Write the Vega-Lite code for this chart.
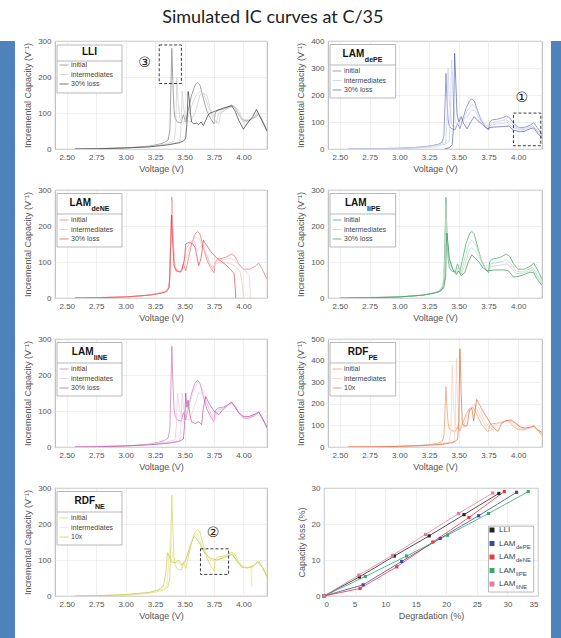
{
"$schema": "https://vega.github.io/schema/vega-lite/v6.json",
"background": "white",
"padding": {"top": 8, "left": 0, "right": 0, "bottom": 0},
"config": {
 "view": {"stroke": "#a0a0a0", "strokeWidth": 0.8},
 "axis": {"labelFont": "Liberation Sans", "titleFont": "Liberation Sans", "labelFontSize": 8, "titleFontSize": 9, "labelColor": "#555", "titleColor": "#555", "titleFontWeight": "normal", "domain": false, "ticks": false, "gridColor": "#e4e4e4", "gridWidth": 0.6, "labelPadding": 4, "labelOverlap": false},
 "axisX": {"titlePadding": 3},
 "axisY": {"titlePadding": 5},
 "legend": {"symbolType": "stroke", "symbolSize": 80, "labelFontSize": 7, "labelFont": "Liberation Sans", "labelColor": "#444", "rowPadding": 1.5, "padding": 0, "labelOffset": 2, "labelLimit": 120}
},
"datasets": {
 "ini": [
  {"s":"initial","c":0,"v":2.57,"ic":0},{"s":"initial","c":0,"v":2.8,"ic":1},{"s":"initial","c":0,"v":3.0,"ic":3},{"s":"initial","c":0,"v":3.1,"ic":5},{"s":"initial","c":0,"v":3.2,"ic":8},{"s":"initial","c":0,"v":3.28,"ic":13},{"s":"initial","c":0,"v":3.33,"ic":18},{"s":"initial","c":0,"v":3.36,"ic":25},{"s":"initial","c":0,"v":3.375,"ic":50},{"s":"initial","c":0,"v":3.385,"ic":180},{"s":"initial","c":0,"v":3.392,"ic":280},{"s":"initial","c":0,"v":3.4,"ic":190},{"s":"initial","c":0,"v":3.41,"ic":110},{"s":"initial","c":0,"v":3.42,"ic":85},{"s":"initial","c":0,"v":3.44,"ic":75},{"s":"initial","c":0,"v":3.47,"ic":72},{"s":"initial","c":0,"v":3.49,"ic":95},{"s":"initial","c":0,"v":3.51,"ic":75},{"s":"initial","c":0,"v":3.53,"ic":105},{"s":"initial","c":0,"v":3.56,"ic":150},{"s":"initial","c":0,"v":3.59,"ic":178},{"s":"initial","c":0,"v":3.61,"ic":185},{"s":"initial","c":0,"v":3.63,"ic":178},{"s":"initial","c":0,"v":3.66,"ic":140},{"s":"initial","c":0,"v":3.69,"ic":105},{"s":"initial","c":0,"v":3.72,"ic":85},{"s":"initial","c":0,"v":3.75,"ic":70},{"s":"initial","c":0,"v":3.76,"ic":100},{"s":"initial","c":0,"v":3.78,"ic":108},{"s":"initial","c":0,"v":3.82,"ic":110},{"s":"initial","c":0,"v":3.86,"ic":115},{"s":"initial","c":0,"v":3.9,"ic":122},{"s":"initial","c":0,"v":3.93,"ic":115},{"s":"initial","c":0,"v":3.96,"ic":95},{"s":"initial","c":0,"v":4.0,"ic":80},{"s":"initial","c":0,"v":4.05,"ic":80},{"s":"initial","c":0,"v":4.1,"ic":88},{"s":"initial","c":0,"v":4.13,"ic":97},{"s":"initial","c":0,"v":4.16,"ic":80},{"s":"initial","c":0,"v":4.2,"ic":52}
 ],
 "lli": [
  {"s":"intermediates","c":1,"v":2.57,"ic":0},{"s":"intermediates","c":1,"v":3.0,"ic":3},{"s":"intermediates","c":1,"v":3.2,"ic":7},{"s":"intermediates","c":1,"v":3.35,"ic":14},{"s":"intermediates","c":1,"v":3.41,"ic":22},{"s":"intermediates","c":1,"v":3.425,"ic":60},{"s":"intermediates","c":1,"v":3.435,"ic":200},{"s":"intermediates","c":1,"v":3.445,"ic":130},{"s":"intermediates","c":1,"v":3.46,"ic":85},{"s":"intermediates","c":1,"v":3.49,"ic":75},{"s":"intermediates","c":1,"v":3.52,"ic":80},{"s":"intermediates","c":1,"v":3.56,"ic":120},{"s":"intermediates","c":1,"v":3.6,"ic":150},{"s":"intermediates","c":1,"v":3.63,"ic":160},{"s":"intermediates","c":1,"v":3.66,"ic":155},{"s":"intermediates","c":1,"v":3.7,"ic":120},{"s":"intermediates","c":1,"v":3.74,"ic":85},{"s":"intermediates","c":1,"v":3.77,"ic":72},{"s":"intermediates","c":1,"v":3.79,"ic":100},{"s":"intermediates","c":1,"v":3.84,"ic":108},{"s":"intermediates","c":1,"v":3.88,"ic":115},{"s":"intermediates","c":1,"v":3.92,"ic":120},{"s":"intermediates","c":1,"v":3.96,"ic":105},{"s":"intermediates","c":1,"v":4.0,"ic":75},{"s":"intermediates","c":1,"v":4.05,"ic":78},{"s":"intermediates","c":1,"v":4.09,"ic":88},{"s":"intermediates","c":1,"v":4.12,"ic":100},{"s":"intermediates","c":1,"v":4.16,"ic":78},{"s":"intermediates","c":1,"v":4.2,"ic":52},
  {"s":"intermediates","c":2,"v":2.57,"ic":0},{"s":"intermediates","c":2,"v":3.0,"ic":3},{"s":"intermediates","c":2,"v":3.2,"ic":6},{"s":"intermediates","c":2,"v":3.4,"ic":15},{"s":"intermediates","c":2,"v":3.46,"ic":20},{"s":"intermediates","c":2,"v":3.47,"ic":60},{"s":"intermediates","c":2,"v":3.48,"ic":160},{"s":"intermediates","c":2,"v":3.49,"ic":120},{"s":"intermediates","c":2,"v":3.51,"ic":80},{"s":"intermediates","c":2,"v":3.55,"ic":75},{"s":"intermediates","c":2,"v":3.59,"ic":100},{"s":"intermediates","c":2,"v":3.63,"ic":150},{"s":"intermediates","c":2,"v":3.66,"ic":155},{"s":"intermediates","c":2,"v":3.69,"ic":150},{"s":"intermediates","c":2,"v":3.72,"ic":110},{"s":"intermediates","c":2,"v":3.76,"ic":80},{"s":"intermediates","c":2,"v":3.79,"ic":70},{"s":"intermediates","c":2,"v":3.81,"ic":100},{"s":"intermediates","c":2,"v":3.86,"ic":112},{"s":"intermediates","c":2,"v":3.9,"ic":118},{"s":"intermediates","c":2,"v":3.93,"ic":115},{"s":"intermediates","c":2,"v":3.97,"ic":90},{"s":"intermediates","c":2,"v":4.02,"ic":65},{"s":"intermediates","c":2,"v":4.06,"ic":78},{"s":"intermediates","c":2,"v":4.1,"ic":92},{"s":"intermediates","c":2,"v":4.12,"ic":105},{"s":"intermediates","c":2,"v":4.16,"ic":80},{"s":"intermediates","c":2,"v":4.2,"ic":50},
  {"s":"30% loss","c":3,"v":2.57,"ic":0},{"s":"30% loss","c":3,"v":2.8,"ic":1},{"s":"30% loss","c":3,"v":3.0,"ic":3},{"s":"30% loss","c":3,"v":3.2,"ic":6},{"s":"30% loss","c":3,"v":3.35,"ic":11},{"s":"30% loss","c":3,"v":3.45,"ic":17},{"s":"30% loss","c":3,"v":3.49,"ic":22},{"s":"30% loss","c":3,"v":3.51,"ic":30},{"s":"30% loss","c":3,"v":3.52,"ic":70},{"s":"30% loss","c":3,"v":3.53,"ic":160},{"s":"30% loss","c":3,"v":3.54,"ic":140},{"s":"30% loss","c":3,"v":3.55,"ic":100},{"s":"30% loss","c":3,"v":3.56,"ic":75},{"s":"30% loss","c":3,"v":3.58,"ic":70},{"s":"30% loss","c":3,"v":3.6,"ic":72},{"s":"30% loss","c":3,"v":3.62,"ic":68},{"s":"30% loss","c":3,"v":3.64,"ic":75},{"s":"30% loss","c":3,"v":3.66,"ic":65},{"s":"30% loss","c":3,"v":3.68,"ic":80},{"s":"30% loss","c":3,"v":3.7,"ic":95},{"s":"30% loss","c":3,"v":3.72,"ic":100},{"s":"30% loss","c":3,"v":3.76,"ic":105},{"s":"30% loss","c":3,"v":3.8,"ic":110},{"s":"30% loss","c":3,"v":3.84,"ic":115},{"s":"30% loss","c":3,"v":3.88,"ic":118},{"s":"30% loss","c":3,"v":3.9,"ic":120},{"s":"30% loss","c":3,"v":3.93,"ic":105},{"s":"30% loss","c":3,"v":3.96,"ic":80},{"s":"30% loss","c":3,"v":4.0,"ic":55},{"s":"30% loss","c":3,"v":4.04,"ic":75},{"s":"30% loss","c":3,"v":4.08,"ic":90},{"s":"30% loss","c":3,"v":4.11,"ic":110},{"s":"30% loss","c":3,"v":4.14,"ic":90},{"s":"30% loss","c":3,"v":4.17,"ic":70},{"s":"30% loss","c":3,"v":4.2,"ic":50}
 ],
 "depe": [
  {"s":"intermediates","c":1,"v":2.57,"ic":0},{"s":"intermediates","c":1,"v":3.0,"ic":3},{"s":"intermediates","c":1,"v":3.2,"ic":7},{"s":"intermediates","c":1,"v":3.33,"ic":15},{"s":"intermediates","c":1,"v":3.39,"ic":25},{"s":"intermediates","c":1,"v":3.4,"ic":100},{"s":"intermediates","c":1,"v":3.41,"ic":300},{"s":"intermediates","c":1,"v":3.42,"ic":180},{"s":"intermediates","c":1,"v":3.44,"ic":90},{"s":"intermediates","c":1,"v":3.47,"ic":80},{"s":"intermediates","c":1,"v":3.5,"ic":95},{"s":"intermediates","c":1,"v":3.53,"ic":100},{"s":"intermediates","c":1,"v":3.57,"ic":140},{"s":"intermediates","c":1,"v":3.61,"ic":165},{"s":"intermediates","c":1,"v":3.64,"ic":155},{"s":"intermediates","c":1,"v":3.68,"ic":115},{"s":"intermediates","c":1,"v":3.73,"ic":85},{"s":"intermediates","c":1,"v":3.76,"ic":95},{"s":"intermediates","c":1,"v":3.8,"ic":100},{"s":"intermediates","c":1,"v":3.86,"ic":105},{"s":"intermediates","c":1,"v":3.9,"ic":108},{"s":"intermediates","c":1,"v":3.94,"ic":95},{"s":"intermediates","c":1,"v":3.98,"ic":80},{"s":"intermediates","c":1,"v":4.03,"ic":75},{"s":"intermediates","c":1,"v":4.08,"ic":80},{"s":"intermediates","c":1,"v":4.12,"ic":88},{"s":"intermediates","c":1,"v":4.16,"ic":70},{"s":"intermediates","c":1,"v":4.2,"ic":48},
  {"s":"intermediates","c":2,"v":2.8,"ic":0},{"s":"intermediates","c":2,"v":3.1,"ic":2},{"s":"intermediates","c":2,"v":3.3,"ic":8},{"s":"intermediates","c":2,"v":3.4,"ic":20},{"s":"intermediates","c":2,"v":3.42,"ic":30},{"s":"intermediates","c":2,"v":3.43,"ic":150},{"s":"intermediates","c":2,"v":3.44,"ic":330},{"s":"intermediates","c":2,"v":3.45,"ic":200},{"s":"intermediates","c":2,"v":3.47,"ic":100},{"s":"intermediates","c":2,"v":3.5,"ic":90},{"s":"intermediates","c":2,"v":3.53,"ic":105},{"s":"intermediates","c":2,"v":3.57,"ic":120},{"s":"intermediates","c":2,"v":3.61,"ic":145},{"s":"intermediates","c":2,"v":3.64,"ic":140},{"s":"intermediates","c":2,"v":3.68,"ic":105},{"s":"intermediates","c":2,"v":3.73,"ic":80},{"s":"intermediates","c":2,"v":3.77,"ic":88},{"s":"intermediates","c":2,"v":3.82,"ic":92},{"s":"intermediates","c":2,"v":3.87,"ic":95},{"s":"intermediates","c":2,"v":3.91,"ic":97},{"s":"intermediates","c":2,"v":3.95,"ic":82},{"s":"intermediates","c":2,"v":4.0,"ic":72},{"s":"intermediates","c":2,"v":4.05,"ic":72},{"s":"intermediates","c":2,"v":4.1,"ic":80},{"s":"intermediates","c":2,"v":4.13,"ic":83},{"s":"intermediates","c":2,"v":4.16,"ic":65},{"s":"intermediates","c":2,"v":4.2,"ic":44},
  {"s":"30% loss","c":3,"v":3.38,"ic":0},{"s":"30% loss","c":3,"v":3.42,"ic":5},{"s":"30% loss","c":3,"v":3.445,"ic":15},{"s":"30% loss","c":3,"v":3.455,"ic":80},{"s":"30% loss","c":3,"v":3.465,"ic":355},{"s":"30% loss","c":3,"v":3.475,"ic":250},{"s":"30% loss","c":3,"v":3.485,"ic":130},{"s":"30% loss","c":3,"v":3.5,"ic":100},{"s":"30% loss","c":3,"v":3.52,"ic":120},{"s":"30% loss","c":3,"v":3.54,"ic":95},{"s":"30% loss","c":3,"v":3.57,"ic":75},{"s":"30% loss","c":3,"v":3.6,"ic":100},{"s":"30% loss","c":3,"v":3.63,"ic":120},{"s":"30% loss","c":3,"v":3.66,"ic":105},{"s":"30% loss","c":3,"v":3.7,"ic":90},{"s":"30% loss","c":3,"v":3.74,"ic":75},{"s":"30% loss","c":3,"v":3.77,"ic":80},{"s":"30% loss","c":3,"v":3.82,"ic":82},{"s":"30% loss","c":3,"v":3.87,"ic":83},{"s":"30% loss","c":3,"v":3.92,"ic":85},{"s":"30% loss","c":3,"v":3.96,"ic":70},{"s":"30% loss","c":3,"v":4.0,"ic":65},{"s":"30% loss","c":3,"v":4.05,"ic":65},{"s":"30% loss","c":3,"v":4.1,"ic":75},{"s":"30% loss","c":3,"v":4.13,"ic":78},{"s":"30% loss","c":3,"v":4.16,"ic":60},{"s":"30% loss","c":3,"v":4.2,"ic":40}
 ],
 "dene": [
  {"s":"intermediates","c":1,"v":2.57,"ic":0},{"s":"intermediates","c":1,"v":3.0,"ic":3},{"s":"intermediates","c":1,"v":3.2,"ic":8},{"s":"intermediates","c":1,"v":3.33,"ic":16},{"s":"intermediates","c":1,"v":3.37,"ic":30},{"s":"intermediates","c":1,"v":3.385,"ic":200},{"s":"intermediates","c":1,"v":3.392,"ic":270},{"s":"intermediates","c":1,"v":3.4,"ic":170},{"s":"intermediates","c":1,"v":3.42,"ic":85},{"s":"intermediates","c":1,"v":3.46,"ic":73},{"s":"intermediates","c":1,"v":3.49,"ic":85},{"s":"intermediates","c":1,"v":3.52,"ic":120},{"s":"intermediates","c":1,"v":3.56,"ic":155},{"s":"intermediates","c":1,"v":3.6,"ic":170},{"s":"intermediates","c":1,"v":3.63,"ic":160},{"s":"intermediates","c":1,"v":3.67,"ic":130},{"s":"intermediates","c":1,"v":3.71,"ic":100},{"s":"intermediates","c":1,"v":3.74,"ic":80},{"s":"intermediates","c":1,"v":3.76,"ic":100},{"s":"intermediates","c":1,"v":3.8,"ic":105},{"s":"intermediates","c":1,"v":3.85,"ic":108},{"s":"intermediates","c":1,"v":3.9,"ic":110},{"s":"intermediates","c":1,"v":3.94,"ic":100},{"s":"intermediates","c":1,"v":3.98,"ic":85},{"s":"intermediates","c":1,"v":4.02,"ic":75},{"s":"intermediates","c":1,"v":4.05,"ic":60},{"s":"intermediates","c":1,"v":4.06,"ic":0},
  {"s":"intermediates","c":2,"v":2.57,"ic":0},{"s":"intermediates","c":2,"v":3.0,"ic":3},{"s":"intermediates","c":2,"v":3.2,"ic":8},{"s":"intermediates","c":2,"v":3.33,"ic":17},{"s":"intermediates","c":2,"v":3.37,"ic":30},{"s":"intermediates","c":2,"v":3.385,"ic":190},{"s":"intermediates","c":2,"v":3.392,"ic":250},{"s":"intermediates","c":2,"v":3.4,"ic":160},{"s":"intermediates","c":2,"v":3.42,"ic":80},{"s":"intermediates","c":2,"v":3.46,"ic":72},{"s":"intermediates","c":2,"v":3.49,"ic":82},{"s":"intermediates","c":2,"v":3.51,"ic":135},{"s":"intermediates","c":2,"v":3.55,"ic":155},{"s":"intermediates","c":2,"v":3.58,"ic":160},{"s":"intermediates","c":2,"v":3.61,"ic":130},{"s":"intermediates","c":2,"v":3.65,"ic":150},{"s":"intermediates","c":2,"v":3.69,"ic":120},{"s":"intermediates","c":2,"v":3.73,"ic":80},{"s":"intermediates","c":2,"v":3.76,"ic":95},{"s":"intermediates","c":2,"v":3.8,"ic":100},{"s":"intermediates","c":2,"v":3.85,"ic":98},{"s":"intermediates","c":2,"v":3.89,"ic":95},{"s":"intermediates","c":2,"v":3.93,"ic":88},{"s":"intermediates","c":2,"v":3.97,"ic":75},{"s":"intermediates","c":2,"v":3.99,"ic":40},{"s":"intermediates","c":2,"v":4.0,"ic":0},
  {"s":"30% loss","c":3,"v":2.57,"ic":0},{"s":"30% loss","c":3,"v":2.8,"ic":1},{"s":"30% loss","c":3,"v":3.0,"ic":3},{"s":"30% loss","c":3,"v":3.2,"ic":8},{"s":"30% loss","c":3,"v":3.3,"ic":13},{"s":"30% loss","c":3,"v":3.35,"ic":18},{"s":"30% loss","c":3,"v":3.37,"ic":30},{"s":"30% loss","c":3,"v":3.38,"ic":120},{"s":"30% loss","c":3,"v":3.39,"ic":230},{"s":"30% loss","c":3,"v":3.4,"ic":150},{"s":"30% loss","c":3,"v":3.41,"ic":90},{"s":"30% loss","c":3,"v":3.43,"ic":75},{"s":"30% loss","c":3,"v":3.46,"ic":72},{"s":"30% loss","c":3,"v":3.48,"ic":80},{"s":"30% loss","c":3,"v":3.5,"ic":110},{"s":"30% loss","c":3,"v":3.51,"ic":150},{"s":"30% loss","c":3,"v":3.54,"ic":155},{"s":"30% loss","c":3,"v":3.57,"ic":150},{"s":"30% loss","c":3,"v":3.59,"ic":140},{"s":"30% loss","c":3,"v":3.62,"ic":90},{"s":"30% loss","c":3,"v":3.64,"ic":110},{"s":"30% loss","c":3,"v":3.66,"ic":160},{"s":"30% loss","c":3,"v":3.68,"ic":150},{"s":"30% loss","c":3,"v":3.72,"ic":130},{"s":"30% loss","c":3,"v":3.76,"ic":115},{"s":"30% loss","c":3,"v":3.8,"ic":105},{"s":"30% loss","c":3,"v":3.85,"ic":92},{"s":"30% loss","c":3,"v":3.89,"ic":80},{"s":"30% loss","c":3,"v":3.92,"ic":68},{"s":"30% loss","c":3,"v":3.93,"ic":30},{"s":"30% loss","c":3,"v":3.935,"ic":0}
 ],
 "lipe": [
  {"s":"intermediates","c":1,"v":2.5,"ic":0},{"s":"intermediates","c":1,"v":3.0,"ic":3},{"s":"intermediates","c":1,"v":3.2,"ic":8},{"s":"intermediates","c":1,"v":3.33,"ic":17},{"s":"intermediates","c":1,"v":3.375,"ic":40},{"s":"intermediates","c":1,"v":3.387,"ic":180},{"s":"intermediates","c":1,"v":3.392,"ic":260},{"s":"intermediates","c":1,"v":3.4,"ic":180},{"s":"intermediates","c":1,"v":3.42,"ic":100},{"s":"intermediates","c":1,"v":3.45,"ic":78},{"s":"intermediates","c":1,"v":3.48,"ic":70},{"s":"intermediates","c":1,"v":3.5,"ic":88},{"s":"intermediates","c":1,"v":3.52,"ic":70},{"s":"intermediates","c":1,"v":3.55,"ic":110},{"s":"intermediates","c":1,"v":3.59,"ic":155},{"s":"intermediates","c":1,"v":3.61,"ic":160},{"s":"intermediates","c":1,"v":3.64,"ic":150},{"s":"intermediates","c":1,"v":3.68,"ic":115},{"s":"intermediates","c":1,"v":3.72,"ic":85},{"s":"intermediates","c":1,"v":3.75,"ic":72},{"s":"intermediates","c":1,"v":3.77,"ic":95},{"s":"intermediates","c":1,"v":3.82,"ic":98},{"s":"intermediates","c":1,"v":3.87,"ic":102},{"s":"intermediates","c":1,"v":3.9,"ic":108},{"s":"intermediates","c":1,"v":3.94,"ic":95},{"s":"intermediates","c":1,"v":3.98,"ic":75},{"s":"intermediates","c":1,"v":4.03,"ic":72},{"s":"intermediates","c":1,"v":4.08,"ic":78},{"s":"intermediates","c":1,"v":4.12,"ic":85},{"s":"intermediates","c":1,"v":4.16,"ic":65},{"s":"intermediates","c":1,"v":4.2,"ic":45},
  {"s":"intermediates","c":2,"v":2.5,"ic":0},{"s":"intermediates","c":2,"v":3.0,"ic":3},{"s":"intermediates","c":2,"v":3.2,"ic":8},{"s":"intermediates","c":2,"v":3.33,"ic":17},{"s":"intermediates","c":2,"v":3.38,"ic":40},{"s":"intermediates","c":2,"v":3.39,"ic":160},{"s":"intermediates","c":2,"v":3.395,"ic":220},{"s":"intermediates","c":2,"v":3.4,"ic":170},{"s":"intermediates","c":2,"v":3.42,"ic":105},{"s":"intermediates","c":2,"v":3.45,"ic":80},{"s":"intermediates","c":2,"v":3.48,"ic":68},{"s":"intermediates","c":2,"v":3.5,"ic":82},{"s":"intermediates","c":2,"v":3.52,"ic":66},{"s":"intermediates","c":2,"v":3.55,"ic":90},{"s":"intermediates","c":2,"v":3.59,"ic":135},{"s":"intermediates","c":2,"v":3.61,"ic":140},{"s":"intermediates","c":2,"v":3.64,"ic":130},{"s":"intermediates","c":2,"v":3.68,"ic":108},{"s":"intermediates","c":2,"v":3.72,"ic":82},{"s":"intermediates","c":2,"v":3.75,"ic":72},{"s":"intermediates","c":2,"v":3.77,"ic":88},{"s":"intermediates","c":2,"v":3.82,"ic":90},{"s":"intermediates","c":2,"v":3.87,"ic":92},{"s":"intermediates","c":2,"v":3.9,"ic":95},{"s":"intermediates","c":2,"v":3.94,"ic":85},{"s":"intermediates","c":2,"v":3.98,"ic":68},{"s":"intermediates","c":2,"v":4.03,"ic":68},{"s":"intermediates","c":2,"v":4.08,"ic":74},{"s":"intermediates","c":2,"v":4.12,"ic":78},{"s":"intermediates","c":2,"v":4.16,"ic":60},{"s":"intermediates","c":2,"v":4.2,"ic":40},
  {"s":"30% loss","c":3,"v":2.5,"ic":0},{"s":"30% loss","c":3,"v":2.8,"ic":1},{"s":"30% loss","c":3,"v":3.0,"ic":3},{"s":"30% loss","c":3,"v":3.2,"ic":8},{"s":"30% loss","c":3,"v":3.3,"ic":14},{"s":"30% loss","c":3,"v":3.35,"ic":20},{"s":"30% loss","c":3,"v":3.375,"ic":30},{"s":"30% loss","c":3,"v":3.39,"ic":60},{"s":"30% loss","c":3,"v":3.395,"ic":140},{"s":"30% loss","c":3,"v":3.4,"ic":180},{"s":"30% loss","c":3,"v":3.41,"ic":150},{"s":"30% loss","c":3,"v":3.42,"ic":110},{"s":"30% loss","c":3,"v":3.45,"ic":80},{"s":"30% loss","c":3,"v":3.48,"ic":65},{"s":"30% loss","c":3,"v":3.5,"ic":75},{"s":"30% loss","c":3,"v":3.52,"ic":62},{"s":"30% loss","c":3,"v":3.55,"ic":70},{"s":"30% loss","c":3,"v":3.58,"ic":100},{"s":"30% loss","c":3,"v":3.61,"ic":120},{"s":"30% loss","c":3,"v":3.64,"ic":110},{"s":"30% loss","c":3,"v":3.67,"ic":100},{"s":"30% loss","c":3,"v":3.7,"ic":85},{"s":"30% loss","c":3,"v":3.74,"ic":75},{"s":"30% loss","c":3,"v":3.78,"ic":77},{"s":"30% loss","c":3,"v":3.83,"ic":78},{"s":"30% loss","c":3,"v":3.88,"ic":78},{"s":"30% loss","c":3,"v":3.92,"ic":75},{"s":"30% loss","c":3,"v":3.96,"ic":58},{"s":"30% loss","c":3,"v":4.0,"ic":60},{"s":"30% loss","c":3,"v":4.05,"ic":65},{"s":"30% loss","c":3,"v":4.1,"ic":72},{"s":"30% loss","c":3,"v":4.13,"ic":70},{"s":"30% loss","c":3,"v":4.16,"ic":52},{"s":"30% loss","c":3,"v":4.2,"ic":35}
 ],
 "line": [
  {"s":"intermediates","c":1,"v":2.57,"ic":0},{"s":"intermediates","c":1,"v":3.0,"ic":3},{"s":"intermediates","c":1,"v":3.2,"ic":7},{"s":"intermediates","c":1,"v":3.35,"ic":14},{"s":"intermediates","c":1,"v":3.42,"ic":20},{"s":"intermediates","c":1,"v":3.43,"ic":60},{"s":"intermediates","c":1,"v":3.44,"ic":150},{"s":"intermediates","c":1,"v":3.45,"ic":120},{"s":"intermediates","c":1,"v":3.47,"ic":80},{"s":"intermediates","c":1,"v":3.5,"ic":78},{"s":"intermediates","c":1,"v":3.53,"ic":110},{"s":"intermediates","c":1,"v":3.57,"ic":150},{"s":"intermediates","c":1,"v":3.61,"ic":180},{"s":"intermediates","c":1,"v":3.64,"ic":170},{"s":"intermediates","c":1,"v":3.68,"ic":130},{"s":"intermediates","c":1,"v":3.72,"ic":95},{"s":"intermediates","c":1,"v":3.75,"ic":72},{"s":"intermediates","c":1,"v":3.77,"ic":100},{"s":"intermediates","c":1,"v":3.82,"ic":108},{"s":"intermediates","c":1,"v":3.87,"ic":115},{"s":"intermediates","c":1,"v":3.9,"ic":122},{"s":"intermediates","c":1,"v":3.93,"ic":113},{"s":"intermediates","c":1,"v":3.97,"ic":92},{"s":"intermediates","c":1,"v":4.0,"ic":82},{"s":"intermediates","c":1,"v":4.05,"ic":82},{"s":"intermediates","c":1,"v":4.1,"ic":90},{"s":"intermediates","c":1,"v":4.13,"ic":97},{"s":"intermediates","c":1,"v":4.16,"ic":80},{"s":"intermediates","c":1,"v":4.2,"ic":55},
  {"s":"intermediates","c":2,"v":2.57,"ic":0},{"s":"intermediates","c":2,"v":3.0,"ic":3},{"s":"intermediates","c":2,"v":3.2,"ic":6},{"s":"intermediates","c":2,"v":3.35,"ic":12},{"s":"intermediates","c":2,"v":3.46,"ic":18},{"s":"intermediates","c":2,"v":3.47,"ic":60},{"s":"intermediates","c":2,"v":3.48,"ic":150},{"s":"intermediates","c":2,"v":3.49,"ic":110},{"s":"intermediates","c":2,"v":3.51,"ic":80},{"s":"intermediates","c":2,"v":3.54,"ic":75},{"s":"intermediates","c":2,"v":3.58,"ic":110},{"s":"intermediates","c":2,"v":3.62,"ic":150},{"s":"intermediates","c":2,"v":3.65,"ic":150},{"s":"intermediates","c":2,"v":3.69,"ic":120},{"s":"intermediates","c":2,"v":3.73,"ic":90},{"s":"intermediates","c":2,"v":3.76,"ic":75},{"s":"intermediates","c":2,"v":3.78,"ic":102},{"s":"intermediates","c":2,"v":3.83,"ic":108},{"s":"intermediates","c":2,"v":3.87,"ic":116},{"s":"intermediates","c":2,"v":3.9,"ic":123},{"s":"intermediates","c":2,"v":3.93,"ic":112},{"s":"intermediates","c":2,"v":3.97,"ic":92},{"s":"intermediates","c":2,"v":4.0,"ic":83},{"s":"intermediates","c":2,"v":4.05,"ic":83},{"s":"intermediates","c":2,"v":4.1,"ic":91},{"s":"intermediates","c":2,"v":4.13,"ic":97},{"s":"intermediates","c":2,"v":4.16,"ic":80},{"s":"intermediates","c":2,"v":4.2,"ic":55},
  {"s":"30% loss","c":3,"v":2.57,"ic":0},{"s":"30% loss","c":3,"v":2.8,"ic":1},{"s":"30% loss","c":3,"v":3.0,"ic":3},{"s":"30% loss","c":3,"v":3.2,"ic":6},{"s":"30% loss","c":3,"v":3.35,"ic":10},{"s":"30% loss","c":3,"v":3.45,"ic":15},{"s":"30% loss","c":3,"v":3.49,"ic":22},{"s":"30% loss","c":3,"v":3.5,"ic":60},{"s":"30% loss","c":3,"v":3.51,"ic":150},{"s":"30% loss","c":3,"v":3.52,"ic":110},{"s":"30% loss","c":3,"v":3.53,"ic":130},{"s":"30% loss","c":3,"v":3.545,"ic":90},{"s":"30% loss","c":3,"v":3.56,"ic":70},{"s":"30% loss","c":3,"v":3.59,"ic":65},{"s":"30% loss","c":3,"v":3.62,"ic":70},{"s":"30% loss","c":3,"v":3.645,"ic":62},{"s":"30% loss","c":3,"v":3.66,"ic":110},{"s":"30% loss","c":3,"v":3.68,"ic":140},{"s":"30% loss","c":3,"v":3.71,"ic":120},{"s":"30% loss","c":3,"v":3.75,"ic":100},{"s":"30% loss","c":3,"v":3.79,"ic":90},{"s":"30% loss","c":3,"v":3.83,"ic":105},{"s":"30% loss","c":3,"v":3.87,"ic":118},{"s":"30% loss","c":3,"v":3.9,"ic":125},{"s":"30% loss","c":3,"v":3.93,"ic":110},{"s":"30% loss","c":3,"v":3.96,"ic":95},{"s":"30% loss","c":3,"v":4.0,"ic":85},{"s":"30% loss","c":3,"v":4.05,"ic":85},{"s":"30% loss","c":3,"v":4.1,"ic":92},{"s":"30% loss","c":3,"v":4.13,"ic":97},{"s":"30% loss","c":3,"v":4.16,"ic":80},{"s":"30% loss","c":3,"v":4.2,"ic":55}
 ],
 "rdfpe": [
  {"s":"intermediates","c":1,"v":2.57,"ic":0},{"s":"intermediates","c":1,"v":3.0,"ic":3},{"s":"intermediates","c":1,"v":3.2,"ic":8},{"s":"intermediates","c":1,"v":3.35,"ic":15},{"s":"intermediates","c":1,"v":3.42,"ic":22},{"s":"intermediates","c":1,"v":3.435,"ic":100},{"s":"intermediates","c":1,"v":3.445,"ic":380},{"s":"intermediates","c":1,"v":3.455,"ic":200},{"s":"intermediates","c":1,"v":3.47,"ic":90},{"s":"intermediates","c":1,"v":3.5,"ic":82},{"s":"intermediates","c":1,"v":3.53,"ic":110},{"s":"intermediates","c":1,"v":3.57,"ic":160},{"s":"intermediates","c":1,"v":3.6,"ic":180},{"s":"intermediates","c":1,"v":3.63,"ic":195},{"s":"intermediates","c":1,"v":3.66,"ic":165},{"s":"intermediates","c":1,"v":3.7,"ic":120},{"s":"intermediates","c":1,"v":3.74,"ic":85},{"s":"intermediates","c":1,"v":3.77,"ic":75},{"s":"intermediates","c":1,"v":3.8,"ic":105},{"s":"intermediates","c":1,"v":3.85,"ic":112},{"s":"intermediates","c":1,"v":3.9,"ic":120},{"s":"intermediates","c":1,"v":3.94,"ic":118},{"s":"intermediates","c":1,"v":3.98,"ic":96},{"s":"intermediates","c":1,"v":4.02,"ic":84},{"s":"intermediates","c":1,"v":4.06,"ic":84},{"s":"intermediates","c":1,"v":4.1,"ic":90},{"s":"intermediates","c":1,"v":4.13,"ic":97},{"s":"intermediates","c":1,"v":4.16,"ic":80},{"s":"intermediates","c":1,"v":4.2,"ic":60},
  {"s":"intermediates","c":2,"v":2.57,"ic":0},{"s":"intermediates","c":2,"v":3.0,"ic":3},{"s":"intermediates","c":2,"v":3.2,"ic":7},{"s":"intermediates","c":2,"v":3.35,"ic":13},{"s":"intermediates","c":2,"v":3.46,"ic":24},{"s":"intermediates","c":2,"v":3.47,"ic":100},{"s":"intermediates","c":2,"v":3.48,"ic":410},{"s":"intermediates","c":2,"v":3.49,"ic":220},{"s":"intermediates","c":2,"v":3.51,"ic":95},{"s":"intermediates","c":2,"v":3.54,"ic":90},{"s":"intermediates","c":2,"v":3.57,"ic":150},{"s":"intermediates","c":2,"v":3.6,"ic":170},{"s":"intermediates","c":2,"v":3.63,"ic":200},{"s":"intermediates","c":2,"v":3.67,"ic":180},{"s":"intermediates","c":2,"v":3.71,"ic":130},{"s":"intermediates","c":2,"v":3.75,"ic":95},{"s":"intermediates","c":2,"v":3.79,"ic":78},{"s":"intermediates","c":2,"v":3.82,"ic":108},{"s":"intermediates","c":2,"v":3.87,"ic":115},{"s":"intermediates","c":2,"v":3.91,"ic":121},{"s":"intermediates","c":2,"v":3.95,"ic":120},{"s":"intermediates","c":2,"v":3.99,"ic":100},{"s":"intermediates","c":2,"v":4.03,"ic":88},{"s":"intermediates","c":2,"v":4.07,"ic":86},{"s":"intermediates","c":2,"v":4.11,"ic":91},{"s":"intermediates","c":2,"v":4.14,"ic":95},{"s":"intermediates","c":2,"v":4.17,"ic":78},{"s":"intermediates","c":2,"v":4.2,"ic":64},
  {"s":"10x","c":3,"v":2.57,"ic":0},{"s":"10x","c":3,"v":2.8,"ic":1},{"s":"10x","c":3,"v":3.0,"ic":3},{"s":"10x","c":3,"v":3.2,"ic":7},{"s":"10x","c":3,"v":3.35,"ic":12},{"s":"10x","c":3,"v":3.45,"ic":20},{"s":"10x","c":3,"v":3.49,"ic":35},{"s":"10x","c":3,"v":3.5,"ic":120},{"s":"10x","c":3,"v":3.51,"ic":455},{"s":"10x","c":3,"v":3.52,"ic":250},{"s":"10x","c":3,"v":3.53,"ic":110},{"s":"10x","c":3,"v":3.55,"ic":95},{"s":"10x","c":3,"v":3.57,"ic":100},{"s":"10x","c":3,"v":3.59,"ic":170},{"s":"10x","c":3,"v":3.61,"ic":180},{"s":"10x","c":3,"v":3.625,"ic":120},{"s":"10x","c":3,"v":3.65,"ic":220},{"s":"10x","c":3,"v":3.68,"ic":190},{"s":"10x","c":3,"v":3.72,"ic":150},{"s":"10x","c":3,"v":3.76,"ic":115},{"s":"10x","c":3,"v":3.8,"ic":85},{"s":"10x","c":3,"v":3.83,"ic":72},{"s":"10x","c":3,"v":3.86,"ic":110},{"s":"10x","c":3,"v":3.9,"ic":122},{"s":"10x","c":3,"v":3.94,"ic":125},{"s":"10x","c":3,"v":3.98,"ic":110},{"s":"10x","c":3,"v":4.02,"ic":92},{"s":"10x","c":3,"v":4.06,"ic":88},{"s":"10x","c":3,"v":4.1,"ic":92},{"s":"10x","c":3,"v":4.13,"ic":98},{"s":"10x","c":3,"v":4.16,"ic":80},{"s":"10x","c":3,"v":4.2,"ic":68}
 ],
 "rdfne": [
  {"s":"intermediates","c":1,"v":2.57,"ic":0},{"s":"intermediates","c":1,"v":3.0,"ic":3},{"s":"intermediates","c":1,"v":3.2,"ic":9},{"s":"intermediates","c":1,"v":3.3,"ic":18},{"s":"intermediates","c":1,"v":3.35,"ic":30},{"s":"intermediates","c":1,"v":3.37,"ic":100},{"s":"intermediates","c":1,"v":3.38,"ic":180},{"s":"intermediates","c":1,"v":3.39,"ic":130},{"s":"intermediates","c":1,"v":3.41,"ic":95},{"s":"intermediates","c":1,"v":3.45,"ic":90},{"s":"intermediates","c":1,"v":3.48,"ic":82},{"s":"intermediates","c":1,"v":3.51,"ic":98},{"s":"intermediates","c":1,"v":3.55,"ic":145},{"s":"intermediates","c":1,"v":3.59,"ic":180},{"s":"intermediates","c":1,"v":3.62,"ic":165},{"s":"intermediates","c":1,"v":3.66,"ic":130},{"s":"intermediates","c":1,"v":3.71,"ic":105},{"s":"intermediates","c":1,"v":3.75,"ic":95},{"s":"intermediates","c":1,"v":3.8,"ic":104},{"s":"intermediates","c":1,"v":3.86,"ic":110},{"s":"intermediates","c":1,"v":3.9,"ic":118},{"s":"intermediates","c":1,"v":3.94,"ic":100},{"s":"intermediates","c":1,"v":3.98,"ic":82},{"s":"intermediates","c":1,"v":4.03,"ic":78},{"s":"intermediates","c":1,"v":4.065,"ic":80},{"s":"intermediates","c":1,"v":4.07,"ic":25},{"s":"intermediates","c":1,"v":4.075,"ic":80},{"s":"intermediates","c":1,"v":4.12,"ic":95},{"s":"intermediates","c":1,"v":4.16,"ic":80},{"s":"intermediates","c":1,"v":4.2,"ic":55},
  {"s":"intermediates","c":2,"v":2.57,"ic":0},{"s":"intermediates","c":2,"v":3.0,"ic":3},{"s":"intermediates","c":2,"v":3.2,"ic":9},{"s":"intermediates","c":2,"v":3.3,"ic":17},{"s":"intermediates","c":2,"v":3.35,"ic":25},{"s":"intermediates","c":2,"v":3.36,"ic":80},{"s":"intermediates","c":2,"v":3.365,"ic":120},{"s":"intermediates","c":2,"v":3.38,"ic":105},{"s":"intermediates","c":2,"v":3.41,"ic":93},{"s":"intermediates","c":2,"v":3.45,"ic":95},{"s":"intermediates","c":2,"v":3.48,"ic":84},{"s":"intermediates","c":2,"v":3.51,"ic":100},{"s":"intermediates","c":2,"v":3.55,"ic":142},{"s":"intermediates","c":2,"v":3.59,"ic":172},{"s":"intermediates","c":2,"v":3.62,"ic":158},{"s":"intermediates","c":2,"v":3.66,"ic":125},{"s":"intermediates","c":2,"v":3.71,"ic":103},{"s":"intermediates","c":2,"v":3.75,"ic":98},{"s":"intermediates","c":2,"v":3.8,"ic":102},{"s":"intermediates","c":2,"v":3.86,"ic":108},{"s":"intermediates","c":2,"v":3.9,"ic":116},{"s":"intermediates","c":2,"v":3.94,"ic":98},{"s":"intermediates","c":2,"v":3.98,"ic":80},{"s":"intermediates","c":2,"v":4.03,"ic":78},{"s":"intermediates","c":2,"v":4.08,"ic":80},{"s":"intermediates","c":2,"v":4.12,"ic":95},{"s":"intermediates","c":2,"v":4.16,"ic":80},{"s":"intermediates","c":2,"v":4.2,"ic":55},
  {"s":"10x","c":3,"v":2.57,"ic":0},{"s":"10x","c":3,"v":2.8,"ic":1},{"s":"10x","c":3,"v":3.0,"ic":4},{"s":"10x","c":3,"v":3.2,"ic":10},{"s":"10x","c":3,"v":3.28,"ic":18},{"s":"10x","c":3,"v":3.32,"ic":28},{"s":"10x","c":3,"v":3.34,"ic":60},{"s":"10x","c":3,"v":3.355,"ic":120},{"s":"10x","c":3,"v":3.37,"ic":110},{"s":"10x","c":3,"v":3.39,"ic":95},{"s":"10x","c":3,"v":3.42,"ic":92},{"s":"10x","c":3,"v":3.45,"ic":100},{"s":"10x","c":3,"v":3.48,"ic":85},{"s":"10x","c":3,"v":3.51,"ic":100},{"s":"10x","c":3,"v":3.55,"ic":140},{"s":"10x","c":3,"v":3.58,"ic":165},{"s":"10x","c":3,"v":3.6,"ic":160},{"s":"10x","c":3,"v":3.63,"ic":145},{"s":"10x","c":3,"v":3.67,"ic":120},{"s":"10x","c":3,"v":3.72,"ic":105},{"s":"10x","c":3,"v":3.77,"ic":100},{"s":"10x","c":3,"v":3.82,"ic":105},{"s":"10x","c":3,"v":3.87,"ic":112},{"s":"10x","c":3,"v":3.91,"ic":115},{"s":"10x","c":3,"v":3.95,"ic":95},{"s":"10x","c":3,"v":3.99,"ic":80},{"s":"10x","c":3,"v":4.03,"ic":78},{"s":"10x","c":3,"v":4.08,"ic":82},{"s":"10x","c":3,"v":4.12,"ic":95},{"s":"10x","c":3,"v":4.16,"ic":80},{"s":"10x","c":3,"v":4.2,"ic":55}
 ],
 "deg": [
  {"m":"LLI","d":0,"cl":0},{"m":"LLI","d":5.8,"cl":5.3},{"m":"LLI","d":11.5,"cl":11.1},{"m":"LLI","d":17.2,"cl":16.7},{"m":"LLI","d":22.9,"cl":22.6},{"m":"LLI","d":28.6,"cl":28.5},
  {"m":"LAMdePE","d":0,"cl":0},{"m":"LAMdePE","d":6.4,"cl":3.1},{"m":"LAMdePE","d":12.7,"cl":9.6},{"m":"LAMdePE","d":19.0,"cl":16.0},{"m":"LAMdePE","d":25.3,"cl":22.3},{"m":"LAMdePE","d":31.5,"cl":28.8},
  {"m":"LAMdeNE","d":0,"cl":0},{"m":"LAMdeNE","d":5.9,"cl":2.1},{"m":"LAMdeNE","d":11.9,"cl":8.1},{"m":"LAMdeNE","d":17.8,"cl":15.0},{"m":"LAMdeNE","d":23.7,"cl":21.8},{"m":"LAMdeNE","d":29.5,"cl":29.0},
  {"m":"LAMliPE","d":0,"cl":0},{"m":"LAMliPE","d":6.75,"cl":5.4},{"m":"LAMliPE","d":13.5,"cl":11.1},{"m":"LAMliPE","d":20.2,"cl":16.9},{"m":"LAMliPE","d":26.9,"cl":22.9},{"m":"LAMliPE","d":33.4,"cl":29.0},
  {"m":"LAMliNE","d":0,"cl":0},{"m":"LAMliNE","d":5.7,"cl":5.8},{"m":"LAMliNE","d":11.2,"cl":11.3},{"m":"LAMliNE","d":16.6,"cl":17.1},{"m":"LAMliNE","d":22.0,"cl":22.9},{"m":"LAMliNE","d":27.6,"cl":28.6}
 ]
},
"spacing": 0,
"resolve": {"scale": {"color": "independent", "strokeWidth": "independent"}, "legend": {"color": "independent", "strokeWidth": "independent"}},
"vconcat": [
 {
  "spacing": 8,
  "resolve": {"scale": {"color": "independent", "strokeWidth": "independent"}, "legend": {"color": "independent", "strokeWidth": "independent"}},
  "hconcat": [
   {"width": 15, "height": 620, "data": {"values": [{}]}, "mark": {"type": "point", "opacity": 0}, "encoding": {}, "view": {"fill": "#4f81bd", "stroke": null}},
   {
    "title": {"text": "Simulated IC curves at C/35", "font": "Lato", "fontSize": 18, "fontWeight": "normal", "color": "#222", "anchor": "middle", "offset": 10, "dx": -10},
    "spacing": 11,
    "resolve": {"scale": {"color": "independent", "strokeWidth": "independent"}, "legend": {"color": "independent", "strokeWidth": "independent"}},
    "vconcat": [
     {"spacing": 28, "resolve": {"scale": {"color": "independent", "strokeWidth": "independent"}, "legend": {"color": "independent", "strokeWidth": "independent"}}, "hconcat": [
      {"width": 212, "height": 108,
       "resolve": {"axis": {"x": "independent", "y": "independent"}},
       "layer": [
        {"data": {"name": "ini"}, "mark": {"type": "line", "clip": true}, "encoding": {
          "x": {"field": "v", "type": "quantitative", "scale": {"domain": [2.4, 4.2], "nice": false, "zero": false}, "axis": {"values": [2.5, 2.75, 3, 3.25, 3.5, 3.75, 4], "format": ".2f", "title": "Voltage (V)"}},
          "y": {"field": "ic", "type": "quantitative", "scale": {"domain": [0, 300], "nice": false}, "axis": {"values": [0, 100, 200, 300], "title": "Incremental Capacity (V⁻¹)"}},
          "color": {"field": "s", "type": "ordinal", "scale": {"domain": ["initial", "intermediates", "30% loss"], "range": ["#9a9a9a", "#cfcfcf", "#1a1a1a"]}, "legend": {"title": null, "orient": "none", "legendX": 4, "legendY": 19}}, "strokeWidth": {"field": "s", "type": "ordinal", "scale": {"domain": ["initial", "intermediates", "30% loss"], "range": [0.9, 0.6, 1.8]}, "legend": {"title": null, "orient": "none", "legendX": 4, "legendY": 19}}, "detail": {"field": "c"}}},
        {"data": {"name": "lli"}, "mark": {"type": "line", "clip": true}, "encoding": {"x": {"field": "v", "type": "quantitative", "axis": null}, "y": {"field": "ic", "type": "quantitative", "axis": null}, "color": {"field": "s", "type": "ordinal"}, "strokeWidth": {"field": "s", "type": "ordinal"}, "detail": {"field": "c"}}},
        {"data": {"values": [{}]}, "mark": {"type": "rect", "fill": "white", "stroke": "#999", "strokeWidth": 0.7}, "encoding": {"x": {"datum": 2.417, "axis": null}, "x2": {"datum": 2.969}, "y": {"datum": 155.6, "axis": null}, "y2": {"datum": 288.9}}},
        {"data": {"values": [{}]}, "mark": {"type": "rule", "color": "#999", "strokeWidth": 0.7}, "encoding": {"x": {"datum": 2.417, "axis": null}, "x2": {"datum": 2.969}, "y": {"datum": 244.4, "axis": null}}},
        {"data": {"values": [{}]}, "mark": {"type": "text", "text": "LLI", "font": "Liberation Sans", "fontWeight": "bold", "fontSize": 10, "align": "center", "baseline": "middle", "color": "#111"}, "encoding": {"x": {"datum": 2.693, "axis": null}, "y": {"datum": 268.1, "axis": null}}},
        {"data": {"values": [{}]}, "mark": {"type": "rect", "fill": null, "stroke": "#222", "strokeWidth": 0.9, "strokeDash": [3, 2]}, "encoding": {"x": {"datum": 3.285, "axis": null}, "x2": {"datum": 3.473}, "y": {"datum": 182, "axis": null}, "y2": {"datum": 289}}},
        {"data": {"values": [{}]}, "mark": {"type": "text", "text": "③", "font": "DejaVu Sans", "fontSize": 14, "align": "center", "baseline": "middle", "color": "#222"}, "encoding": {"x": {"datum": 3.16, "axis": null}, "y": {"datum": 238, "axis": null}}}
       ]},
      {"width": 214, "height": 108,
       "resolve": {"axis": {"x": "independent", "y": "independent"}},
       "layer": [
        {"data": {"name": "ini"}, "mark": {"type": "line", "clip": true}, "encoding": {
          "x": {"field": "v", "type": "quantitative", "scale": {"domain": [2.4, 4.2], "nice": false, "zero": false}, "axis": {"values": [2.5, 2.75, 3, 3.25, 3.5, 3.75, 4], "format": ".2f", "title": "Voltage (V)"}},
          "y": {"field": "ic", "type": "quantitative", "scale": {"domain": [0, 400], "nice": false}, "axis": {"values": [0, 100, 200, 300, 400], "title": "Incremental Capacity (V⁻¹)"}},
          "color": {"field": "s", "type": "ordinal", "scale": {"domain": ["initial", "intermediates", "30% loss"], "range": ["#8d94d0", "#c9cdeb", "#3a449c"]}, "legend": {"title": null, "orient": "none", "legendX": 4, "legendY": 25}}, "strokeWidth": {"field": "s", "type": "ordinal", "scale": {"domain": ["initial", "intermediates", "30% loss"], "range": [0.9, 0.6, 1.8]}, "legend": {"title": null, "orient": "none", "legendX": 4, "legendY": 25}}, "detail": {"field": "c"}}},
        {"data": {"name": "depe"}, "mark": {"type": "line", "clip": true}, "encoding": {"x": {"field": "v", "type": "quantitative", "axis": null}, "y": {"field": "ic", "type": "quantitative", "axis": null}, "color": {"field": "s", "type": "ordinal"}, "strokeWidth": {"field": "s", "type": "ordinal"}, "detail": {"field": "c"}}},
        {"data": {"values": [{}]}, "mark": {"type": "rect", "fill": "white", "stroke": "#999", "strokeWidth": 0.7}, "encoding": {"x": {"datum": 2.417, "axis": null}, "x2": {"datum": 2.969}, "y": {"datum": 188.9, "axis": null}, "y2": {"datum": 387.0}}},
        {"data": {"values": [{}]}, "mark": {"type": "rule", "color": "#999", "strokeWidth": 0.7}, "encoding": {"x": {"datum": 2.417, "axis": null}, "x2": {"datum": 2.969}, "y": {"datum": 311.1, "axis": null}}},
        {"data": {"values": [{}]}, "mark": {"type": "text", "text": "LAM", "font": "Liberation Sans", "fontWeight": "bold", "fontSize": 10, "align": "left", "baseline": "middle", "color": "#111"}, "encoding": {"x": {"datum": 2.523, "axis": null}, "y": {"datum": 353.0, "axis": null}}},
        {"data": {"values": [{}]}, "mark": {"type": "text", "text": "dePE", "font": "Liberation Sans", "fontWeight": "bold", "fontSize": 7, "align": "left", "baseline": "middle", "color": "#111"}, "encoding": {"x": {"datum": 2.71, "axis": null}, "y": {"datum": 329.6, "axis": null}}},
        {"data": {"values": [{}]}, "mark": {"type": "rect", "fill": null, "stroke": "#222", "strokeWidth": 0.9, "strokeDash": [3, 2]}, "encoding": {"x": {"datum": 3.96, "axis": null}, "x2": {"datum": 4.19}, "y": {"datum": 12, "axis": null}, "y2": {"datum": 133}}},
        {"data": {"values": [{}]}, "mark": {"type": "text", "text": "①", "font": "DejaVu Sans", "fontSize": 14, "align": "center", "baseline": "middle", "color": "#222"}, "encoding": {"x": {"datum": 4.03, "axis": null}, "y": {"datum": 190, "axis": null}}}
       ]}
     ]},
     {"spacing": 28, "resolve": {"scale": {"color": "independent", "strokeWidth": "independent"}, "legend": {"color": "independent", "strokeWidth": "independent"}}, "hconcat": [
      {"width": 212, "height": 108,
       "resolve": {"axis": {"x": "independent", "y": "independent"}},
       "layer": [
        {"data": {"name": "ini"}, "mark": {"type": "line", "clip": true}, "encoding": {
          "x": {"field": "v", "type": "quantitative", "scale": {"domain": [2.4, 4.2], "nice": false, "zero": false}, "axis": {"values": [2.5, 2.75, 3, 3.25, 3.5, 3.75, 4], "format": ".2f", "title": "Voltage (V)"}},
          "y": {"field": "ic", "type": "quantitative", "scale": {"domain": [0, 300], "nice": false}, "axis": {"values": [0, 100, 200, 300], "title": "Incremental Capacity (V⁻¹)"}},
          "color": {"field": "s", "type": "ordinal", "scale": {"domain": ["initial", "intermediates", "30% loss"], "range": ["#f28b8b", "#f8c6c6", "#e3242b"]}, "legend": {"title": null, "orient": "none", "legendX": 4, "legendY": 25}}, "strokeWidth": {"field": "s", "type": "ordinal", "scale": {"domain": ["initial", "intermediates", "30% loss"], "range": [0.9, 0.6, 1.8]}, "legend": {"title": null, "orient": "none", "legendX": 4, "legendY": 25}}, "detail": {"field": "c"}}},
        {"data": {"name": "dene"}, "mark": {"type": "line", "clip": true}, "encoding": {"x": {"field": "v", "type": "quantitative", "axis": null}, "y": {"field": "ic", "type": "quantitative", "axis": null}, "color": {"field": "s", "type": "ordinal"}, "strokeWidth": {"field": "s", "type": "ordinal"}, "detail": {"field": "c"}}},
        {"data": {"values": [{}]}, "mark": {"type": "rect", "fill": "white", "stroke": "#999", "strokeWidth": 0.7}, "encoding": {"x": {"datum": 2.417, "axis": null}, "x2": {"datum": 2.969}, "y": {"datum": 141.7, "axis": null}, "y2": {"datum": 290.3}}},
        {"data": {"values": [{}]}, "mark": {"type": "rule", "color": "#999", "strokeWidth": 0.7}, "encoding": {"x": {"datum": 2.417, "axis": null}, "x2": {"datum": 2.969}, "y": {"datum": 233.3, "axis": null}}},
        {"data": {"values": [{}]}, "mark": {"type": "text", "text": "LAM", "font": "Liberation Sans", "fontWeight": "bold", "fontSize": 10, "align": "left", "baseline": "middle", "color": "#111"}, "encoding": {"x": {"datum": 2.523, "axis": null}, "y": {"datum": 264.7, "axis": null}}},
        {"data": {"values": [{}]}, "mark": {"type": "text", "text": "deNE", "font": "Liberation Sans", "fontWeight": "bold", "fontSize": 7, "align": "left", "baseline": "middle", "color": "#111"}, "encoding": {"x": {"datum": 2.71, "axis": null}, "y": {"datum": 247.2, "axis": null}}}
       ]},
      {"width": 214, "height": 108,
       "resolve": {"axis": {"x": "independent", "y": "independent"}},
       "layer": [
        {"data": {"name": "ini"}, "mark": {"type": "line", "clip": true}, "encoding": {
          "x": {"field": "v", "type": "quantitative", "scale": {"domain": [2.4, 4.2], "nice": false, "zero": false}, "axis": {"values": [2.5, 2.75, 3, 3.25, 3.5, 3.75, 4], "format": ".2f", "title": "Voltage (V)"}},
          "y": {"field": "ic", "type": "quantitative", "scale": {"domain": [0, 300], "nice": false}, "axis": {"values": [0, 100, 200, 300], "title": "Incremental Capacity (V⁻¹)"}},
          "color": {"field": "s", "type": "ordinal", "scale": {"domain": ["initial", "intermediates", "30% loss"], "range": ["#6ab584", "#b7dcc2", "#1d7a40"]}, "legend": {"title": null, "orient": "none", "legendX": 4, "legendY": 25}}, "strokeWidth": {"field": "s", "type": "ordinal", "scale": {"domain": ["initial", "intermediates", "30% loss"], "range": [0.9, 0.6, 1.8]}, "legend": {"title": null, "orient": "none", "legendX": 4, "legendY": 25}}, "detail": {"field": "c"}}},
        {"data": {"name": "lipe"}, "mark": {"type": "line", "clip": true}, "encoding": {"x": {"field": "v", "type": "quantitative", "axis": null}, "y": {"field": "ic", "type": "quantitative", "axis": null}, "color": {"field": "s", "type": "ordinal"}, "strokeWidth": {"field": "s", "type": "ordinal"}, "detail": {"field": "c"}}},
        {"data": {"values": [{}]}, "mark": {"type": "rect", "fill": "white", "stroke": "#999", "strokeWidth": 0.7}, "encoding": {"x": {"datum": 2.417, "axis": null}, "x2": {"datum": 2.969}, "y": {"datum": 141.7, "axis": null}, "y2": {"datum": 290.3}}},
        {"data": {"values": [{}]}, "mark": {"type": "rule", "color": "#999", "strokeWidth": 0.7}, "encoding": {"x": {"datum": 2.417, "axis": null}, "x2": {"datum": 2.969}, "y": {"datum": 233.3, "axis": null}}},
        {"data": {"values": [{}]}, "mark": {"type": "text", "text": "LAM", "font": "Liberation Sans", "fontWeight": "bold", "fontSize": 10, "align": "left", "baseline": "middle", "color": "#111"}, "encoding": {"x": {"datum": 2.543, "axis": null}, "y": {"datum": 264.7, "axis": null}}},
        {"data": {"values": [{}]}, "mark": {"type": "text", "text": "liPE", "font": "Liberation Sans", "fontWeight": "bold", "fontSize": 7, "align": "left", "baseline": "middle", "color": "#111"}, "encoding": {"x": {"datum": 2.729, "axis": null}, "y": {"datum": 247.2, "axis": null}}}
       ]}
     ]},
     {"spacing": 28, "resolve": {"scale": {"color": "independent", "strokeWidth": "independent"}, "legend": {"color": "independent", "strokeWidth": "independent"}}, "hconcat": [
      {"width": 212, "height": 108,
       "resolve": {"axis": {"x": "independent", "y": "independent"}},
       "layer": [
        {"data": {"name": "ini"}, "mark": {"type": "line", "clip": true}, "encoding": {
          "x": {"field": "v", "type": "quantitative", "scale": {"domain": [2.4, 4.2], "nice": false, "zero": false}, "axis": {"values": [2.5, 2.75, 3, 3.25, 3.5, 3.75, 4], "format": ".2f", "title": "Voltage (V)"}},
          "y": {"field": "ic", "type": "quantitative", "scale": {"domain": [0, 300], "nice": false}, "axis": {"values": [0, 100, 200, 300], "title": "Incremental Capacity (V⁻¹)"}},
          "color": {"field": "s", "type": "ordinal", "scale": {"domain": ["initial", "intermediates", "30% loss"], "range": ["#db8cc6", "#efc8e6", "#a3388f"]}, "legend": {"title": null, "orient": "none", "legendX": 4, "legendY": 25}}, "strokeWidth": {"field": "s", "type": "ordinal", "scale": {"domain": ["initial", "intermediates", "30% loss"], "range": [0.9, 0.6, 1.8]}, "legend": {"title": null, "orient": "none", "legendX": 4, "legendY": 25}}, "detail": {"field": "c"}}},
        {"data": {"name": "line"}, "mark": {"type": "line", "clip": true}, "encoding": {"x": {"field": "v", "type": "quantitative", "axis": null}, "y": {"field": "ic", "type": "quantitative", "axis": null}, "color": {"field": "s", "type": "ordinal"}, "strokeWidth": {"field": "s", "type": "ordinal"}, "detail": {"field": "c"}}},
        {"data": {"values": [{}]}, "mark": {"type": "rect", "fill": "white", "stroke": "#999", "strokeWidth": 0.7}, "encoding": {"x": {"datum": 2.417, "axis": null}, "x2": {"datum": 2.969}, "y": {"datum": 141.7, "axis": null}, "y2": {"datum": 290.3}}},
        {"data": {"values": [{}]}, "mark": {"type": "rule", "color": "#999", "strokeWidth": 0.7}, "encoding": {"x": {"datum": 2.417, "axis": null}, "x2": {"datum": 2.969}, "y": {"datum": 233.3, "axis": null}}},
        {"data": {"values": [{}]}, "mark": {"type": "text", "text": "LAM", "font": "Liberation Sans", "fontWeight": "bold", "fontSize": 10, "align": "left", "baseline": "middle", "color": "#111"}, "encoding": {"x": {"datum": 2.543, "axis": null}, "y": {"datum": 264.7, "axis": null}}},
        {"data": {"values": [{}]}, "mark": {"type": "text", "text": "liNE", "font": "Liberation Sans", "fontWeight": "bold", "fontSize": 7, "align": "left", "baseline": "middle", "color": "#111"}, "encoding": {"x": {"datum": 2.729, "axis": null}, "y": {"datum": 247.2, "axis": null}}}
       ]},
      {"width": 214, "height": 108,
       "resolve": {"axis": {"x": "independent", "y": "independent"}},
       "layer": [
        {"data": {"name": "ini"}, "mark": {"type": "line", "clip": true}, "encoding": {
          "x": {"field": "v", "type": "quantitative", "scale": {"domain": [2.4, 4.2], "nice": false, "zero": false}, "axis": {"values": [2.5, 2.75, 3, 3.25, 3.5, 3.75, 4], "format": ".2f", "title": "Voltage (V)"}},
          "y": {"field": "ic", "type": "quantitative", "scale": {"domain": [0, 500], "nice": false}, "axis": {"values": [0, 100, 200, 300, 400, 500], "title": "Incremental Capacity (V⁻¹)"}},
          "color": {"field": "s", "type": "ordinal", "scale": {"domain": ["initial", "intermediates", "10x"], "range": ["#f2aa88", "#f8d2bf", "#d9531e"]}, "legend": {"title": null, "orient": "none", "legendX": 4, "legendY": 25}}, "strokeWidth": {"field": "s", "type": "ordinal", "scale": {"domain": ["initial", "intermediates", "10x"], "range": [0.9, 0.6, 1.8]}, "legend": {"title": null, "orient": "none", "legendX": 4, "legendY": 25}}, "detail": {"field": "c"}}},
        {"data": {"name": "rdfpe"}, "mark": {"type": "line", "clip": true}, "encoding": {"x": {"field": "v", "type": "quantitative", "axis": null}, "y": {"field": "ic", "type": "quantitative", "axis": null}, "color": {"field": "s", "type": "ordinal"}, "strokeWidth": {"field": "s", "type": "ordinal"}, "detail": {"field": "c"}}},
        {"data": {"values": [{}]}, "mark": {"type": "rect", "fill": "white", "stroke": "#999", "strokeWidth": 0.7}, "encoding": {"x": {"datum": 2.417, "axis": null}, "x2": {"datum": 2.969}, "y": {"datum": 236.1, "axis": null}, "y2": {"datum": 483.8}}},
        {"data": {"values": [{}]}, "mark": {"type": "rule", "color": "#999", "strokeWidth": 0.7}, "encoding": {"x": {"datum": 2.417, "axis": null}, "x2": {"datum": 2.969}, "y": {"datum": 388.9, "axis": null}}},
        {"data": {"values": [{}]}, "mark": {"type": "text", "text": "RDF", "font": "Liberation Sans", "fontWeight": "bold", "fontSize": 10, "align": "left", "baseline": "middle", "color": "#111"}, "encoding": {"x": {"datum": 2.566, "axis": null}, "y": {"datum": 441.2, "axis": null}}},
        {"data": {"values": [{}]}, "mark": {"type": "text", "text": "PE", "font": "Liberation Sans", "fontWeight": "bold", "fontSize": 7, "align": "left", "baseline": "middle", "color": "#111"}, "encoding": {"x": {"datum": 2.74, "axis": null}, "y": {"datum": 412.0, "axis": null}}}
       ]}
     ]},
     {"spacing": 28, "resolve": {"scale": {"color": "independent", "strokeWidth": "independent"}, "legend": {"color": "independent", "strokeWidth": "independent"}}, "hconcat": [
      {"width": 212, "height": 108,
       "resolve": {"axis": {"x": "independent", "y": "independent"}},
       "layer": [
        {"data": {"name": "ini"}, "mark": {"type": "line", "clip": true}, "encoding": {
          "x": {"field": "v", "type": "quantitative", "scale": {"domain": [2.4, 4.2], "nice": false, "zero": false}, "axis": {"values": [2.5, 2.75, 3, 3.25, 3.5, 3.75, 4], "format": ".2f", "title": "Voltage (V)"}},
          "y": {"field": "ic", "type": "quantitative", "scale": {"domain": [0, 300], "nice": false}, "axis": {"values": [0, 100, 200, 300], "title": "Incremental Capacity (V⁻¹)"}},
          "color": {"field": "s", "type": "ordinal", "scale": {"domain": ["initial", "intermediates", "10x"], "range": ["#dcdc7a", "#ececb6", "#bdbd2c"]}, "legend": {"title": null, "orient": "none", "legendX": 4, "legendY": 25}}, "strokeWidth": {"field": "s", "type": "ordinal", "scale": {"domain": ["initial", "intermediates", "10x"], "range": [0.9, 0.6, 1.8]}, "legend": {"title": null, "orient": "none", "legendX": 4, "legendY": 25}}, "detail": {"field": "c"}}},
        {"data": {"name": "rdfne"}, "mark": {"type": "line", "clip": true}, "encoding": {"x": {"field": "v", "type": "quantitative", "axis": null}, "y": {"field": "ic", "type": "quantitative", "axis": null}, "color": {"field": "s", "type": "ordinal"}, "strokeWidth": {"field": "s", "type": "ordinal"}, "detail": {"field": "c"}}},
        {"data": {"values": [{}]}, "mark": {"type": "rect", "fill": "white", "stroke": "#999", "strokeWidth": 0.7}, "encoding": {"x": {"datum": 2.417, "axis": null}, "x2": {"datum": 2.969}, "y": {"datum": 141.7, "axis": null}, "y2": {"datum": 290.3}}},
        {"data": {"values": [{}]}, "mark": {"type": "rule", "color": "#999", "strokeWidth": 0.7}, "encoding": {"x": {"datum": 2.417, "axis": null}, "x2": {"datum": 2.969}, "y": {"datum": 233.3, "axis": null}}},
        {"data": {"values": [{}]}, "mark": {"type": "text", "text": "RDF", "font": "Liberation Sans", "fontWeight": "bold", "fontSize": 10, "align": "left", "baseline": "middle", "color": "#111"}, "encoding": {"x": {"datum": 2.566, "axis": null}, "y": {"datum": 264.7, "axis": null}}},
        {"data": {"values": [{}]}, "mark": {"type": "text", "text": "NE", "font": "Liberation Sans", "fontWeight": "bold", "fontSize": 7, "align": "left", "baseline": "middle", "color": "#111"}, "encoding": {"x": {"datum": 2.74, "axis": null}, "y": {"datum": 247.2, "axis": null}}},
        {"data": {"values": [{}]}, "mark": {"type": "rect", "fill": null, "stroke": "#222", "strokeWidth": 0.9, "strokeDash": [3, 2]}, "encoding": {"x": {"datum": 3.635, "axis": null}, "x2": {"datum": 3.874}, "y": {"datum": 60, "axis": null}, "y2": {"datum": 131}}},
        {"data": {"values": [{}]}, "mark": {"type": "text", "text": "②", "font": "DejaVu Sans", "fontSize": 14, "align": "center", "baseline": "middle", "color": "#222"}, "encoding": {"x": {"datum": 3.742, "axis": null}, "y": {"datum": 175, "axis": null}}}
       ]},
      {"width": 214, "height": 108,
       "resolve": {"axis": {"x": "independent", "y": "independent"}},
       "layer": [
        {"data": {"name": "deg"}, "mark": {"type": "line", "strokeWidth": 0.8}, "encoding": {
          "x": {"field": "d", "type": "quantitative", "scale": {"domain": [0, 35], "nice": false}, "axis": {"values": [0, 5, 10, 15, 20, 25, 30, 35], "title": "Degradation (%)"}},
          "y": {"field": "cl", "type": "quantitative", "scale": {"domain": [0, 30], "nice": false}, "axis": {"values": [0, 10, 20, 30], "title": "Capacity loss (%)"}},
          "color": {"field": "m", "type": "nominal", "scale": {"domain": ["LLI", "LAMdePE", "LAMdeNE", "LAMliPE", "LAMliNE"], "range": ["#222222", "#3b4aa0", "#e8393f", "#3aa66a", "#e27aa6"]}, "legend": {"title": null, "orient": "none", "legendX": 164, "legendY": 38, "symbolType": "square", "symbolSize": 12, "symbolStrokeWidth": 1.5, "labelFontSize": 8, "rowPadding": 3.5, "labelOffset": 3, "labelExpr": "slice(datum.label, 0, 3)"}}}},
        {"data": {"name": "deg"}, "mark": {"type": "point", "shape": "square", "filled": true, "size": 10, "opacity": 1}, "encoding": {
          "x": {"field": "d", "type": "quantitative", "axis": null},
          "y": {"field": "cl", "type": "quantitative", "axis": null},
          "color": {"field": "m", "type": "nominal"}}},
        {"data": {"values": [{}]}, "mark": {"type": "rect", "fill": "white", "stroke": "#999", "strokeWidth": 0.7}, "encoding": {"x": {"datum": 26.9, "axis": null}, "x2": {"datum": 34.3}, "y": {"datum": 1.1, "axis": null}, "y2": {"datum": 19.4}}},
        {"data": {"values": [{}]}, "mark": {"type": "text", "text": "dePE", "font": "Liberation Sans", "fontSize": 6, "align": "left", "baseline": "middle", "color": "#444"}, "encoding": {"x": {"datum": 31.4, "axis": null}, "y": {"datum": 13.75, "axis": null}}},
        {"data": {"values": [{}]}, "mark": {"type": "text", "text": "deNE", "font": "Liberation Sans", "fontSize": 6, "align": "left", "baseline": "middle", "color": "#444"}, "encoding": {"x": {"datum": 31.4, "axis": null}, "y": {"datum": 10.0, "axis": null}}},
        {"data": {"values": [{}]}, "mark": {"type": "text", "text": "liPE", "font": "Liberation Sans", "fontSize": 6, "align": "left", "baseline": "middle", "color": "#444"}, "encoding": {"x": {"datum": 31.4, "axis": null}, "y": {"datum": 6.25, "axis": null}}},
        {"data": {"values": [{}]}, "mark": {"type": "text", "text": "liNE", "font": "Liberation Sans", "fontSize": 6, "align": "left", "baseline": "middle", "color": "#444"}, "encoding": {"x": {"datum": 31.4, "axis": null}, "y": {"datum": 2.5, "axis": null}}}
       ]}
     ]}
    ]
   },
   {"width": 11, "height": 620, "data": {"values": [{}]}, "mark": {"type": "point", "opacity": 0}, "encoding": {}, "view": {"fill": "#4f81bd", "stroke": null}}
  ]
 },
 {"width": 561, "height": 10, "data": {"values": [{}]}, "mark": {"type": "point", "opacity": 0}, "encoding": {}, "view": {"fill": "#4f81bd", "stroke": null}}
]
}
